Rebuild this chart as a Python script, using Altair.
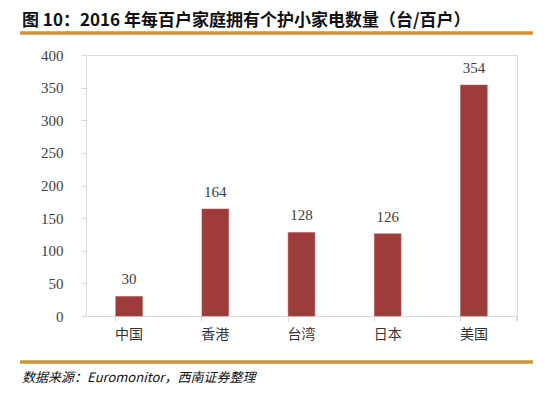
import altair as alt
import pandas as pd

categories = ["中国", "香港", "台湾", "日本", "美国"]
values = [30, 164, 128, 126, 354]
y_ticks = [0, 50, 100, 150, 200, 250, 300, 350, 400]
title_text = "图 10：2016 年每百户家庭拥有个护小家电数量（台/百户）"
source_text = "数据来源：Euromonitor，西南证券整理"

df = pd.DataFrame({"cat": categories, "val": values})

W, H = 431, 261
BAR = "#9E3B3B"
GOLD = "#C9963F"
serif = "Liberation Serif"
cjk = "Noto Sans CJK SC"

x = alt.X("cat:N", sort=categories, title=None,
          scale=alt.Scale(paddingInner=0.69, paddingOuter=0.345),
          axis=alt.Axis(labelAngle=0, labelFont=cjk, labelFontSize=14, labelColor="#333333",
                        domainColor="#D9D9D9", tickColor="#D9D9D9", tickSize=5,
                        labelPadding=6, bandPosition=0))
y = alt.Y("val:Q", title=None,
          scale=alt.Scale(domain=[0, 400], nice=False),
          axis=alt.Axis(values=y_ticks, grid=False, labelFont=serif, labelFontSize=15,
                        labelColor="#404040", domainColor="#D9D9D9", tickColor="#D9D9D9",
                        tickSize=5, labelPadding=18, labelOverlap=False))

bars = alt.Chart(df).mark_bar(color=BAR, stroke="#B05050", strokeWidth=0.5).encode(x=x, y=y)
labels = alt.Chart(df).mark_text(font=serif, fontSize=15, color="#404040", dy=-17).encode(
    x=x, y=y, text="val:Q")

end_tick = alt.Chart(df).mark_rule(color="#D9D9D9").encode(
    x=alt.value(W), y=alt.value(H), y2=alt.value(H + 5))

title = alt.Chart(pd.DataFrame({"t": [title_text]})).mark_text(
    font=cjk, fontSize=17, fontWeight="bold", color="#111111", align="left", baseline="alphabetic"
).encode(x=alt.value(-64), y=alt.value(-29), text="t:N")
top_line = alt.Chart(df).mark_rule(color=GOLD, strokeWidth=2.5).encode(
    x=alt.value(-66), x2=alt.value(447), y=alt.value(-22))
bottom_line = alt.Chart(df).mark_rule(color=GOLD, strokeWidth=2.5).encode(
    x=alt.value(-66), x2=alt.value(447), y=alt.value(307))
source = alt.Chart(pd.DataFrame({"t": [source_text]})).mark_text(
    font=cjk, fontSize=13, fontStyle="italic", color="#111111", align="left", baseline="middle"
).encode(x=alt.value(-64), y=alt.value(323), text="t:N")

chart = alt.layer(bars, labels, end_tick, title, top_line, bottom_line, source).properties(
    width=W, height=H,
    autosize=alt.AutoSizeParams(type="none"),
    padding={"left": 78, "top": 47, "right": 28, "bottom": 72},
).configure_view(stroke=None).configure(background="white")

chart.save("out.html", embed_options={"renderer": "svg", "actions": False})
